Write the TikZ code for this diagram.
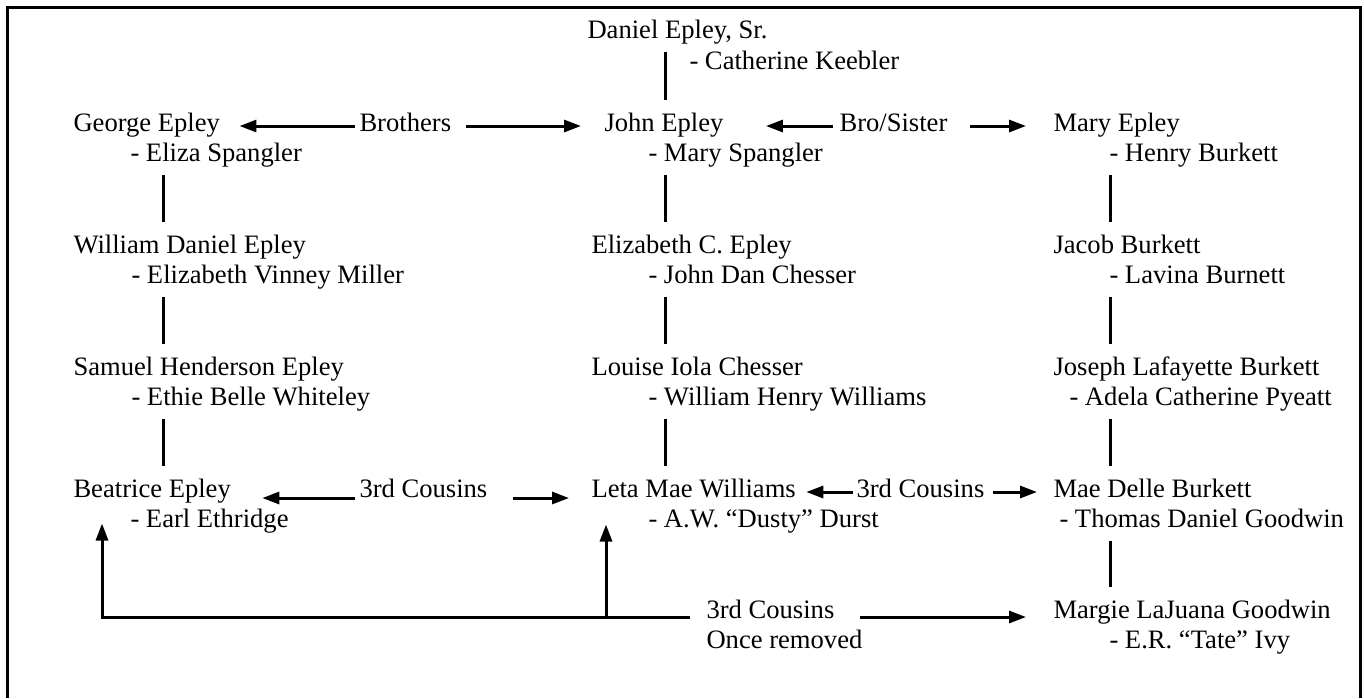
\documentclass[tikz,border=0pt]{standalone}
\usepackage{fontspec}
\setmainfont{Liberation Serif}
\usetikzlibrary{arrows.meta}

\begin{document}
\begin{tikzpicture}[x=0.5pt,y=-0.5pt,line width=1.5pt,font=\fontsize{13.3}{15}\selectfont]
\tikzstyle{person}=[anchor=base west,inner xsep=0pt,inner ysep=3pt,text height=12pt,text depth=3pt]
\tikzstyle{rel}=[anchor=base west,inner sep=0pt,text height=8pt,text depth=3pt]
\tikzstyle{link}=[draw,-]
\tikzstyle{arr}=[draw,-{Triangle[length=8.5pt,width=6pt]}]
\useasboundingbox (0,0) rectangle (1364,698);
% frame, open at the bottom
\draw (7.5,698) -- (7.5,7.5) -- (1360.5,7.5) -- (1360.5,698);
% column lines
\coordinate (cl) at (163,0);
\coordinate (cm) at (665,0);
\coordinate (cr) at (1110,0);
% people
\node[person] (dan) at (586,38) {Daniel Epley, Sr.};
\node[person] (danw) at (688,69) {- Catherine Keebler};
\node[person] (geo) at (72,131) {George Epley};
\node[person] (geow) at (129,161) {- Eliza Spangler};
\node[person] (joh) at (603,131) {John Epley};
\node[person] (johw) at (647,161) {- Mary Spangler};
\node[person] (mar) at (1052,131) {Mary Epley};
\node[person] (marw) at (1108,161) {- Henry Burkett};
\node[person] (wil) at (72,253) {William Daniel Epley};
\node[person] (wilw) at (130,283) {- Elizabeth Vinney Miller};
\node[person] (eli) at (590,253) {Elizabeth C. Epley};
\node[person] (eliw) at (647,283) {- John Dan Chesser};
\node[person] (jac) at (1052,253) {Jacob Burkett};
\node[person] (jacw) at (1108,283) {- Lavina Burnett};
\node[person] (sam) at (72,375) {Samuel Henderson Epley};
\node[person] (samw) at (130,405) {- Ethie Belle Whiteley};
\node[person] (lou) at (590,375) {Louise Iola Chesser};
\node[person] (louw) at (647,405) {- William Henry Williams};
\node[person] (jos) at (1052,375) {Joseph Lafayette Burkett};
\node[person] (josw) at (1068,405) {- Adela Catherine Pyeatt};
\node[person] (bea) at (72,497) {Beatrice Epley};
\node[person] (beaw) at (129,527) {- Earl Ethridge};
\node[person] (let) at (590,497) {Leta Mae Williams};
\node[person] (letw) at (647,527) {- A.W. “Dusty” Durst};
\node[person] (mae) at (1052,497) {Mae Delle Burkett};
\node[person] (maew) at (1058,527) {- Thomas Daniel Goodwin};
\node[person] (mrg) at (1052,618) {Margie LaJuana Goodwin};
\node[person] (mrgw) at (1108,648) {- E.R. “Tate” Ivy};
% relations
\node[rel] (bro) at (358,131) {Brothers};
\node[rel] (bs) at (838,131) {Bro/Sister};
\node[rel] (c3a) at (358,497) {3rd Cousins};
\node[rel] (c3b) at (855,497) {3rd Cousins};
\node[rel] (cou) at (705,618) {3rd Cousins};
\node[rel] (onc) at (705,648) {Once removed};
% descent
\path[link] (dan.south -| cm) -- (joh.north -| cm);
\path[link] (johw.south -| cm) -- (eli.north -| cm);
\path[link] (eliw.south -| cm) -- (lou.north -| cm);
\path[link] (louw.south -| cm) -- (let.north -| cm);
\path[link] (geow.south -| cl) -- (wil.north -| cl);
\path[link] (wilw.south -| cl) -- (sam.north -| cl);
\path[link] (samw.south -| cl) -- (bea.north -| cl);
\path[link] (marw.south -| cr) -- (jac.north -| cr);
\path[link] (jacw.south -| cr) -- (jos.north -| cr);
\path[link] (josw.south -| cr) -- (mae.north -| cr);
\path[link] (maew.south -| cr) -- (mrg.north -| cr);
% cousin arrows
\path[arr,shorten <=1.5pt,shorten >=9pt] (bro.west) -- (bro.west -| geo.east);
\path[arr,shorten <=6.5pt,shorten >=11pt] (bro.east) -- (bro.east -| joh.west);
\path[arr,shorten <=2.5pt,shorten >=20.5pt] (bs.west) -- (bs.west -| joh.east);
\path[arr,shorten <=10.5pt,shorten >=13pt] (bs.east) -- (bs.east -| mar.west);
\path[arr,shorten <=1.5pt,shorten >=15pt] ([yshift=-3pt]c3a.west) -- ([yshift=-3pt]c3a.west -| bea.east);
\path[arr,shorten <=12pt,shorten >=10.5pt] ([yshift=-3pt]c3a.east) -- ([yshift=-3pt]c3a.east -| let.west);
\path[arr,shorten <=1pt,shorten >=4.5pt] (c3b.west) -- (c3b.west -| let.east);
\path[arr,shorten <=3.5pt,shorten >=7.5pt] (c3b.east) -- (c3b.east -| mae.west);
\coordinate (bl) at (102,617);
\coordinate (bm) at (606,617);
\path[arr,shorten <=7.5pt,shorten >=6.5pt] ([yshift=-2pt]cou.west) -- (bl) -- (bea.south -| bl);
\path[arr,shorten >=7pt] (bm) -- (let.south -| bm);
\path[arr,shorten <=12pt,shorten >=13pt] ([yshift=-2pt]cou.east) -- ([yshift=-2pt]cou.east -| mrg.west);
\end{tikzpicture}
\end{document}
